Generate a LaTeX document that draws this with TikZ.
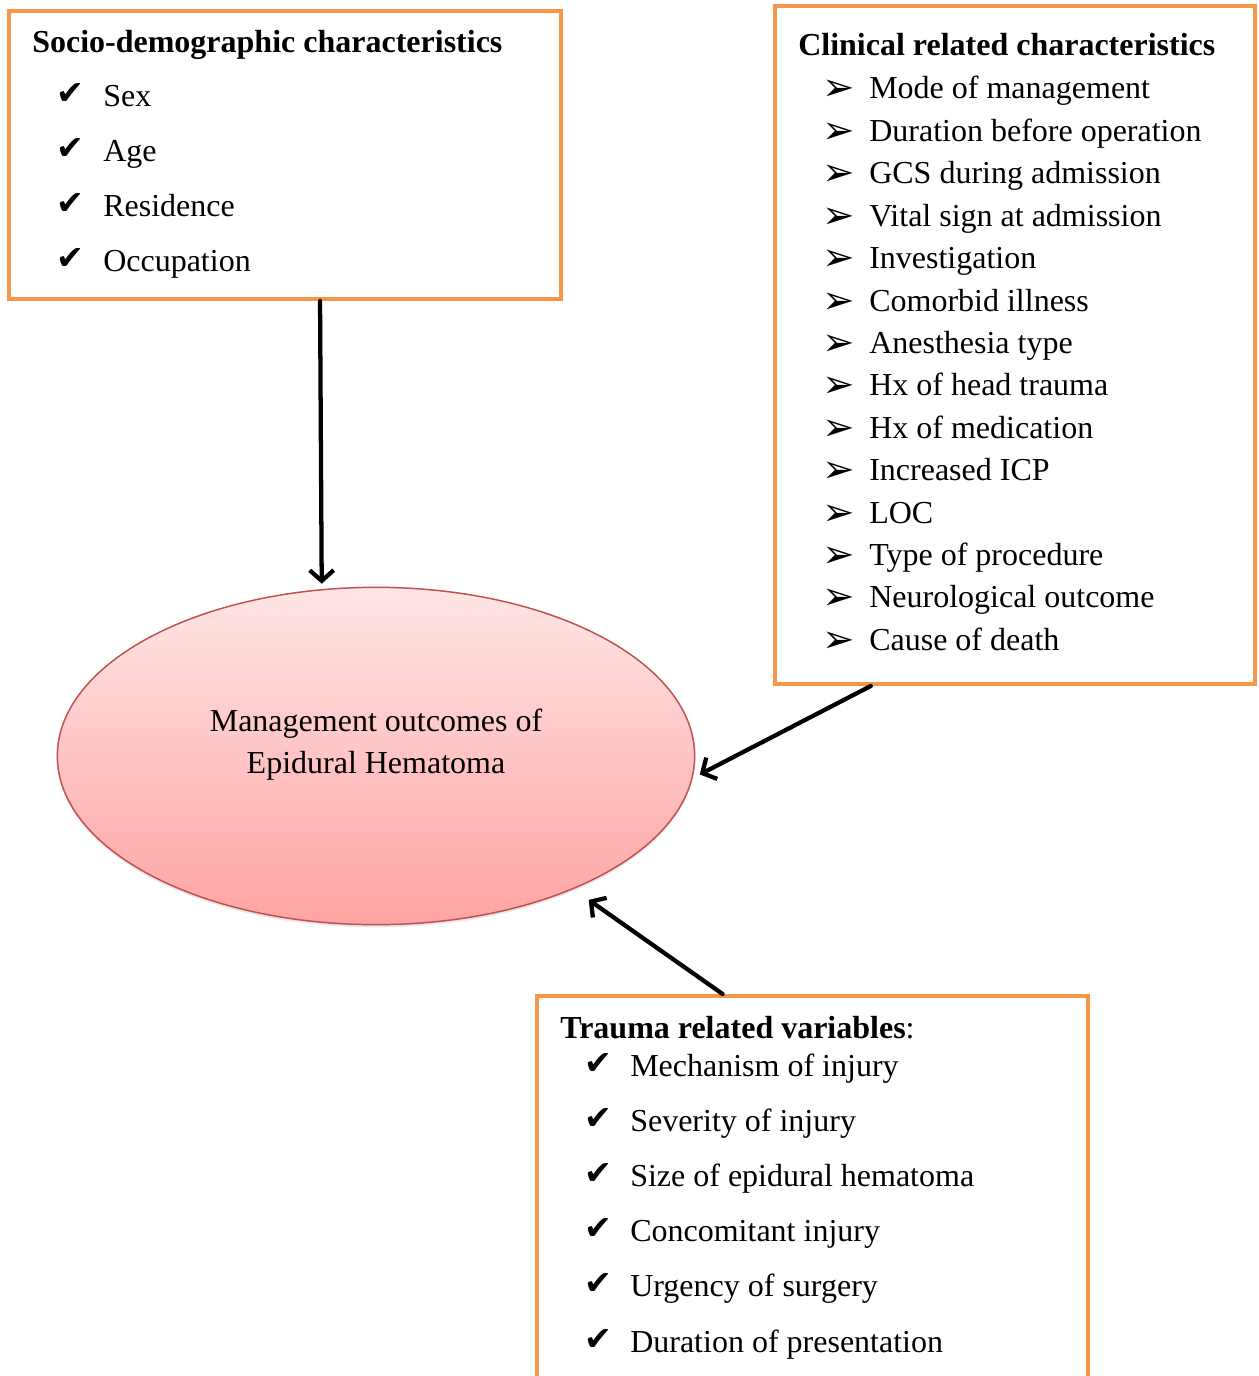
\documentclass[tikz,border=0pt]{standalone}
\usepackage{fontspec}
\setmainfont{Liberation Serif}
\newfontfamily\symfont{DejaVu Sans}
\usetikzlibrary{shapes.geometric,arrows.meta,calc,shadows}
\definecolor{boxorange}{HTML}{F79646}
\definecolor{ovalred}{HTML}{C0504D}
\definecolor{ovaltop}{HTML}{FFE6E6}
\definecolor{ovalbot}{HTML}{FFA3A3}
\newcommand{\tick}{{\symfont\fontsize{25}{28}\selectfont ✔}}
\newcommand{\pointer}{{\symfont\fontsize{29}{30}\selectfont ➢}}

\begin{document}
\begin{tikzpicture}[x=0.75pt, y=-0.75pt,
  frame/.style={draw=boxorange, line width=3pt, fill=white, inner sep=0pt},
  head/.style={font=\fontsize{24}{29}\selectfont\bfseries, anchor=base west, inner sep=0pt},
  item/.style={font=\fontsize{24}{29}\selectfont, anchor=base west, inner sep=0pt},
  bullet/.style={anchor=base west, inner sep=0pt},
  outcome/.style={ellipse, draw=ovalred, line width=1.1pt, top color=ovaltop, bottom color=ovalbot,
    minimum width=478pt, minimum height=253pt, drop shadow={opacity=0.2, shadow xshift=0pt, shadow yshift=-2pt}},
  link/.style={line width=3.2pt, line cap=round, -{Straight Barb[length=8pt, width=18pt]}}
]
\useasboundingbox (0,0) rectangle (1258,1376);
\clip (0,0) rectangle (1258,1376);

% Boxes
\node[frame, minimum width=414pt, minimum height=216pt] (sd) at (285,155) {};
\node[frame, minimum width=360pt, minimum height=508.5pt] (cl) at (1015,345) {};
\node[frame, minimum width=413.25pt, minimum height=303pt] (tr) at (812.5,1198) {};

% Outcome
\node[outcome] (out) at (376,756) {};
\node[font=\fontsize{24}{31.5}\selectfont, align=center] (outtxt) at (376,745) {Management outcomes of\\Epidural Hematoma};

% Socio-demographic
\node[head] (sdh) at (32,53) {Socio-demographic characteristics};
\foreach \txt [count=\k from 0] in {Sex, Age, Residence, Occupation} {
  \node[bullet] (sdb\k) at (56,105+55*\k) {\tick};
  \node[item] (sdi\k) at (103,107+55*\k) {\txt};
}

% Clinical
\node[head] (clh) at (798,56) {Clinical related characteristics};
\foreach \txt [count=\k from 0] in {Mode of management, Duration before operation, GCS during admission,
  Vital sign at admission, Investigation, Comorbid illness, Anesthesia type, Hx of head trauma,
  Hx of medication, Increased ICP, LOC, Type of procedure, Neurological outcome, Cause of death} {
  \node[bullet] (clb\k) at (822,101+42.4*\k) {\pointer};
  \node[item] (cli\k) at (869,99+42.4*\k) {\txt};
}

% Trauma
\node[head] (trh) at (560,1038) {Trauma related variables\textmd{:}};
\foreach \txt [count=\k from 0] in {Mechanism of injury, Severity of injury, Size of epidural hematoma,
  Concomitant injury, Urgency of surgery, Duration of presentation} {
  \node[bullet] (trb\k) at (584,1074+55.2*\k) {\tick};
  \node[item] (tri\k) at (630,1076+55.2*\k) {\txt};
}

% Arrows
\draw[link, shorten >=4pt] ($(sd.south west)!0.563!(sd.south east)$) -- (out.108);
\draw[link, shorten >=6pt] ($(cl.south west)!0.202!(cl.south east)$) -- (out.-4);
\draw[link, shorten >=14pt] ($(tr.north west)!0.338!(tr.north east)$) -- (out.-34);
\end{tikzpicture}
\end{document}
